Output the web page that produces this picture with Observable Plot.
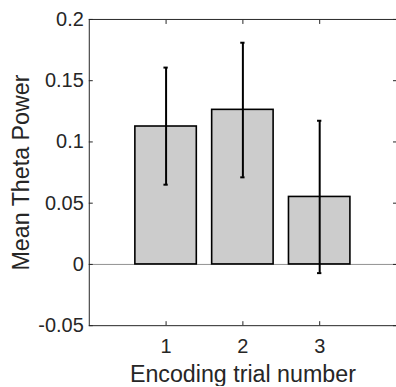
<!DOCTYPE html>
<html>
<head>
<meta charset="utf-8">
<script src="https://cdn.jsdelivr.net/npm/d3@7"></script>
<script src="https://cdn.jsdelivr.net/npm/@observablehq/plot@0.6"></script>
<style>
  html, body { margin: 0; padding: 0; background: #fff; overflow: hidden; }
  #chart { width: 396px; height: 387px; overflow: hidden; }
</style>
</head>
<body>
<div id="chart"></div>
<script>
const trials = [1, 2, 3];
const means = [0.1126, 0.1262, 0.0551];
const errLow = [0.0651, 0.0711, -0.0071];
const errHigh = [0.1607, 0.1810, 0.1173];
const xTicks = [1, 2, 3];
const xTickLabels = ["1", "2", "3"];
const yTicks = [-0.05, 0, 0.05, 0.1, 0.15, 0.2];
const yTickLabels = ["-0.05", "0", "0.05", "0.1", "0.15", "0.2"];
const xLabel = "Encoding trial number";
const yLabel = "Mean Theta Power";

const data = trials.map((t, i) => ({trial: t, mean: means[i], lo: errLow[i], hi: errHigh[i]}));
const halfBar = 0.4;
const halfCap = 0.028;
const axisColor = "#262626";
const font = "'Liberation Sans', Arial, Helvetica, sans-serif";

const chart = Plot.plot({
  width: 397,
  height: 387,
  marginLeft: 89,
  marginRight: 0,
  marginTop: 19,
  marginBottom: 61,
  style: {fontFamily: font, color: axisColor, background: "#fff"},
  x: {type: "linear", domain: [0, 4]},
  y: {domain: [-0.05, 0.2]},
  marks: [
    Plot.ruleY([0], {stroke: "#919191", strokeWidth: 1}),
    Plot.rectY(data, {
      x1: d => d.trial - halfBar, x2: d => d.trial + halfBar,
      y1: 0, y2: "mean",
      fill: "#cccccc", stroke: "#000", strokeWidth: 1.6
    }),
    Plot.ruleX(data, {x: "trial", y1: "lo", y2: "hi", stroke: "#000", strokeWidth: 2}),
    Plot.ruleY(data, {y: "hi", x1: d => d.trial - halfCap, x2: d => d.trial + halfCap, stroke: "#000", strokeWidth: 2}),
    Plot.ruleY(data, {y: "lo", x1: d => d.trial - halfCap, x2: d => d.trial + halfCap, stroke: "#000", strokeWidth: 2}),
    Plot.frame({stroke: axisColor, strokeWidth: 1}),
    Plot.axisY({anchor: "left", ticks: yTicks, tickSize: -4, tickPadding: 9.5,
      tickFormat: (d, i) => yTickLabels[yTicks.indexOf(d)], label: null,
      fontSize: 20, stroke: axisColor, fill: axisColor}),
    Plot.axisY({anchor: "right", ticks: yTicks, tickSize: -4, tickFormat: () => "", label: null, stroke: axisColor}),
    Plot.axisX({anchor: "bottom", ticks: xTicks, tickSize: -4, tickPadding: 17.4,
      tickFormat: d => xTickLabels[xTicks.indexOf(d)], label: null,
      fontSize: 20, stroke: axisColor, fill: axisColor}),
    Plot.axisX({anchor: "top", ticks: xTicks, tickSize: -4, tickFormat: () => "", label: null, stroke: axisColor}),
    Plot.text([xLabel], {frameAnchor: "bottom", text: d => d, dy: 49.5, lineAnchor: "middle", textAnchor: "middle",
      fontSize: 23.3, fill: axisColor}),
    Plot.text([yLabel], {frameAnchor: "left", text: d => d, dx: -68, rotate: -90, lineAnchor: "middle", textAnchor: "middle",
      fontSize: 23.3, fill: axisColor})
  ]
});
document.getElementById("chart").appendChild(chart);
</script>
</body>
</html>
